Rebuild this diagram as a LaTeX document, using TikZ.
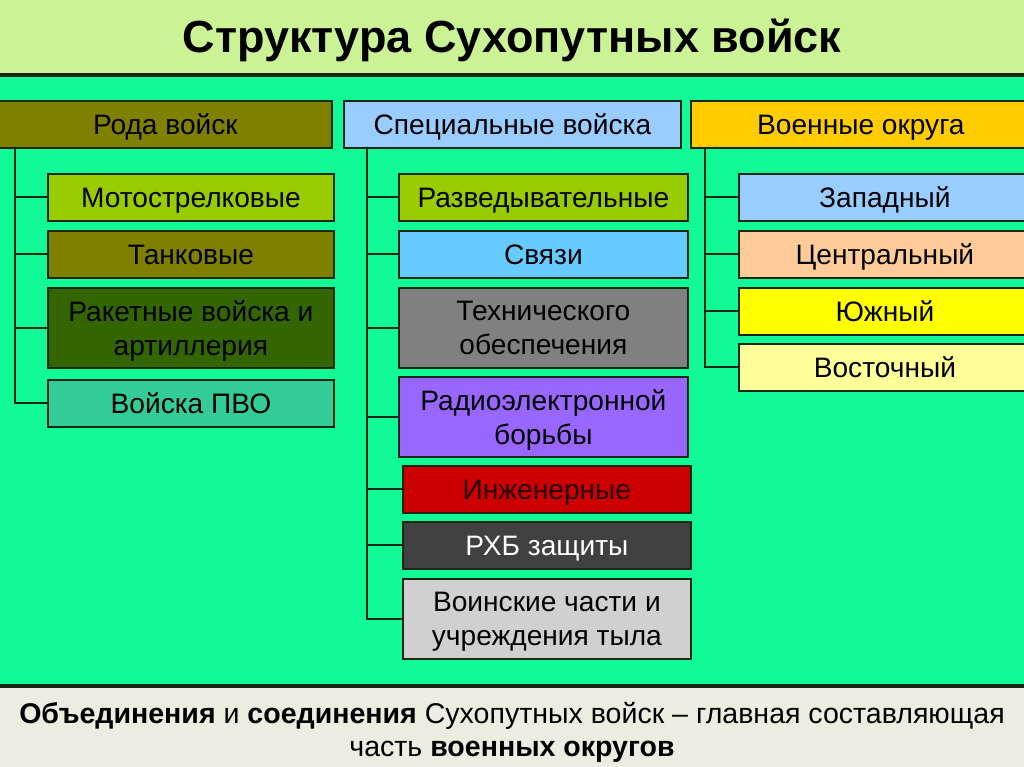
\documentclass[tikz,border=0pt]{standalone}
\usepackage{fontspec}
\setmainfont{Liberation Sans}
\definecolor{titlegreen}{RGB}{204,242,150}
\definecolor{fieldgreen}{RGB}{18,250,150}
\definecolor{footgrey}{RGB}{236,236,224}
\definecolor{olivebox}{RGB}{128,128,0}
\definecolor{limebox}{RGB}{153,204,0}
\definecolor{darkolive}{RGB}{51,102,0}
\definecolor{seabox}{RGB}{51,204,153}
\definecolor{paleblue}{RGB}{153,204,255}
\definecolor{skyblue}{RGB}{102,204,255}
\definecolor{greybox}{RGB}{128,128,128}
\definecolor{violetbox}{RGB}{153,102,255}
\definecolor{redbox}{RGB}{204,0,0}
\definecolor{coalbox}{RGB}{64,64,64}
\definecolor{silverbox}{RGB}{208,208,208}
\definecolor{goldbox}{RGB}{255,204,0}
\definecolor{peachbox}{RGB}{255,204,153}
\definecolor{yellowbox}{RGB}{255,255,0}
\definecolor{creambox}{RGB}{255,255,153}
\definecolor{linedark}{RGB}{20,40,20}
\begin{document}
\begin{tikzpicture}[x=0.025cm,y=-0.025cm,
  box/.style={draw=linedark,line width=1.2pt,anchor=north west,align=center,
    inner sep=0pt,minimum height=1.175cm,font=\fontsize{20}{24}\selectfont,
    execute at begin node={\rule{0pt}{0.93em}},
    execute at end node={\rule[-0.21em]{0pt}{0pt}}},
  tallbox/.style={box,minimum height=2cm,text depth=0em},
  tree/.style={draw=linedark,line width=1.4pt}]
\useasboundingbox (0,0) rectangle (1024,767);
\clip (0,0) rectangle (1024,767);
\fill[titlegreen] (0,0) rectangle (1024,75);
\fill[fieldgreen] (0,75) rectangle (1024,686);
\fill[footgrey] (0,686) rectangle (1024,767);
\draw[linedark,line width=2.2pt] (0,75) -- (1024,75);
\draw[linedark,line width=2.2pt] (0,686) -- (1024,686);
\node[font=\bfseries\fontsize{32}{36}\selectfont] (title) at (512,40) {Структура Сухопутных войск};

\node[box,fill=olivebox,minimum width=8.325cm] (rod) at (-2,100) {Рода войск};
\node[box,fill=paleblue,minimum width=8.425cm] (spec) at (343,100) {Специальные войска};
\node[box,fill=goldbox,minimum width=8.5cm] (okr) at (690,100) {Военные округа};

\node[box,fill=limebox,minimum width=7.15cm] (mot) at (47,173) {Мотострелковые};
\node[box,fill=olivebox,minimum width=7.15cm] (tank) at (47,230) {Танковые};
\node[tallbox,fill=darkolive,minimum width=7.15cm] (rak) at (47,287) {Ракетные войска и\\артиллерия};
\node[box,fill=seabox,minimum width=7.15cm] (pvo) at (47,379) {Войска ПВО};

\node[box,fill=limebox,minimum width=7.225cm] (razv) at (398,173) {Разведывательные};
\node[box,fill=skyblue,minimum width=7.225cm] (svyaz) at (398,230) {Связи};
\node[tallbox,fill=greybox,minimum width=7.225cm] (tekh) at (398,287) {Технического\\обеспечения};
\node[tallbox,fill=violetbox,minimum width=7.225cm] (reb) at (398,376) {Радиоэлектронной\\борьбы};
\node[box,fill=redbox,text=black!85!red,minimum width=7.2cm] (inzh) at (402,465) {Инженерные};
\node[box,fill=coalbox,text=white,minimum width=7.2cm] (rkhb) at (402,521) {РХБ защиты};
\node[tallbox,fill=silverbox,minimum width=7.2cm] (tyl) at (402,578) {Воинские части и\\учреждения тыла};

\node[box,fill=paleblue,minimum width=7.3cm] (zap) at (738,173) {Западный};
\node[box,fill=peachbox,minimum width=7.3cm] (centr) at (738,230) {Центральный};
\node[box,fill=yellowbox,minimum width=7.3cm] (yug) at (738,287) {Южный};
\node[box,fill=creambox,minimum width=7.3cm] (vost) at (738,343) {Восточный};

\coordinate (rodT) at (15,147);
\coordinate (specT) at (367,147);
\coordinate (okrT) at (705,147);
\foreach \n in {mot,tank,rak,pvo} \draw[tree] (rodT) |- (\n.west);
\foreach \n in {razv,svyaz,tekh,reb,inzh,rkhb,tyl} \draw[tree] (specT) |- (\n.west);
\foreach \n in {zap,centr,yug,vost} \draw[tree] (okrT) |- (\n.west);

\node[align=center,font=\fontsize{20.3}{23.5}\selectfont] (foot) at (512,732)
  {\textbf{Объединения} и \textbf{соединения} Сухопутных войск – главная составляющая\\
   часть \textbf{военных округов}};
\end{tikzpicture}
\end{document}
